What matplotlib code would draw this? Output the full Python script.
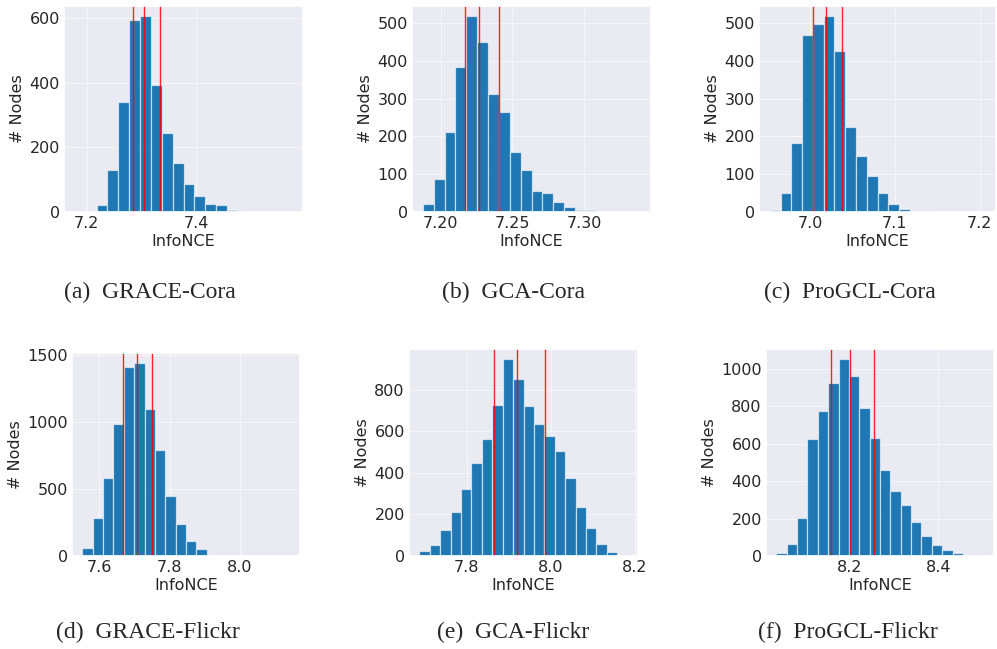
"""
InfoNCE 分布直方图：GRACE / GCA / ProGCL 在 Cora 与 Flickr 上，红线为分位点。
"""

import matplotlib

matplotlib.use("Agg")
import matplotlib.pyplot as plt
import numpy as np
import seaborn as sns
from matplotlib.ticker import MultipleLocator

# ---- data ----
captions = [
    "(a)  GRACE-Cora", "(b)  GCA-Cora", "(c)  ProGCL-Cora",
    "(d)  GRACE-Flickr", "(e)  GCA-Flickr", "(f)  ProGCL-Flickr",
]

# data range (min, max) of each panel, 20 equal bins in between
ranges = [
    (7.178, 7.575),
    (7.1876, 7.3392),
    (6.9527, 7.2063),
    (7.552, 8.141),
    (7.688, 8.183),
    (8.0335, 8.5025),
]

counts_grace_cora = [1, 4, 23, 129, 340, 593, 607, 394, 244, 152, 88, 50, 25, 22, 7, 4, 1, 0, 0, 1]
counts_gca_cora = [22, 88, 212, 383, 519, 451, 313, 265, 158, 112, 56, 51, 26, 12, 4, 5, 1, 0, 0, 1]
counts_progcl_cora = [5, 49, 183, 467, 498, 519, 427, 225, 149, 96, 49, 20, 8, 3, 2, 1, 0, 1, 0, 1]
counts_grace_flickr = [62, 284, 585, 990, 1413, 1445, 1095, 789, 450, 239, 114, 50, 10, 3, 1, 0, 0, 0, 0, 1]
counts_gca_flickr = [26, 55, 125, 211, 325, 450, 565, 727, 950, 855, 722, 634, 577, 507, 378, 236, 134, 58, 19, 3]
counts_progcl_flickr = [14, 62, 204, 623, 777, 925, 1054, 964, 789, 629, 461, 348, 273, 180, 109, 57, 30, 16, 5, 4]

all_counts = [
    counts_grace_cora, counts_gca_cora, counts_progcl_cora,
    counts_grace_flickr, counts_gca_flickr, counts_progcl_flickr,
]

# red vertical lines (quartiles)
q_lines = [
    [7.284, 7.305, 7.333],
    [7.217, 7.227, 7.241],
    [7.003, 7.019, 7.038],
    [7.667, 7.707, 7.750],
    [7.866, 7.919, 7.986],
    [8.156, 8.201, 8.254],
]

x_steps = [0.2, 0.05, 0.1, 0.2, 0.2, 0.2]

# ---- layout (pixels: left, top, right, bottom) ----
W, H = 997, 649
boxes = [
    (64, 6, 303, 212),
    (412, 6, 651, 212),
    (759, 6, 996, 212),
    (72, 353, 300, 556),
    (409, 349, 638, 556),
    (766, 349, 994, 556),
]
caption_pos = [(150, 292), (513, 292), (850, 292), (148, 632), (513, 632), (848, 632)]

sns.set_theme(style="darkgrid")
plt.rcParams["font.family"] = ["DejaVu Sans"]

fig = plt.figure(figsize=(W / 100, H / 100), dpi=100)

for i in range(6):
    l, t, r, b = boxes[i]
    ax = fig.add_axes([l / W, 1 - b / H, (r - l) / W, (b - t) / H])
    lo, hi = ranges[i]
    counts = all_counts[i]
    edges = np.linspace(lo, hi, len(counts) + 1)
    ax.bar(edges[:-1], counts, width=np.diff(edges), align="edge",
           color="#1f77b4", edgecolor=(1, 1, 1, 0.6), linewidth=0.9)
    for q in q_lines[i]:
        ax.axvline(q, color="red", linewidth=1.0, alpha=0.85)
    ax.xaxis.set_major_locator(MultipleLocator(x_steps[i]))
    ax.tick_params(labelsize=11.5, length=0, pad=3)
    ax.set_xlabel("InfoNCE", fontsize=11.5, labelpad=2)
    ax.set_ylabel("# Nodes", fontsize=11.5, labelpad=3)
    ax.grid(color="white", alpha=0.6, linewidth=0.8)

    cx, cy = caption_pos[i]
    fig.text(cx / W, 1 - cy / H, captions[i], ha="center", va="center",
             fontsize=17, family=["Liberation Serif", "DejaVu Serif"])

fig.savefig("out.png", dpi=100)
